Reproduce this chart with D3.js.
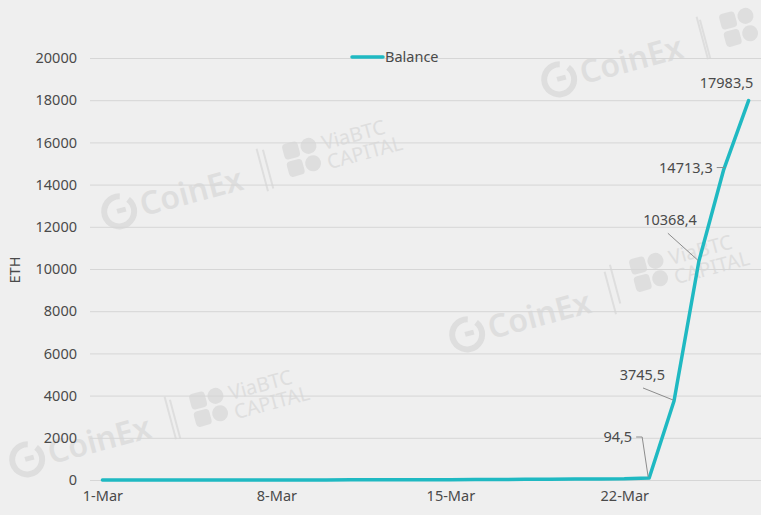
<!DOCTYPE html>
<html>
<head>
<meta charset="utf-8">
<script src="https://d3js.org/d3.v7.min.js"></script>
<style>
  body { margin: 0; background: #efefef; }
  svg { display: block; font-family: "Noto Sans", "Open Sans", sans-serif; }
</style>
</head>
<body>
<div id="chart"></div>
<script>
// data
var dates = ["1-Mar","2-Mar","3-Mar","4-Mar","5-Mar","6-Mar","7-Mar","8-Mar","9-Mar","10-Mar",
  "11-Mar","12-Mar","13-Mar","14-Mar","15-Mar","16-Mar","17-Mar","18-Mar","19-Mar","20-Mar",
  "21-Mar","22-Mar","23-Mar","24-Mar","25-Mar","26-Mar","27-Mar"];
var balance = [0, 0, 0, 0, 0, 0, 0, 0, 2, 4, 6, 8, 10, 12, 15, 20, 25, 30, 38, 45, 52, 60,
  94.5, 3745.5, 10368.4, 14713.3, 17983.5];
var xTickLabels = ["1-Mar", "8-Mar", "15-Mar", "22-Mar"];
var yTicks = [0, 2000, 4000, 6000, 8000, 10000, 12000, 14000, 16000, 18000, 20000];
var seriesName = "Balance";
var yTitle = "ETH";
// labelled points: index, label offset from the point, leader type
var labelled = [
  { i: 22, dx: -17, dy: -41, anchor: "end", leader: "elbow" },
  { i: 23, dx: -9, dy: -26, anchor: "end", leader: "slant" },
  { i: 24, dx: -2, dy: -41, anchor: "end", leader: "slant" },
  { i: 25, dx: -11, dy: -2, anchor: "end", leader: "short" },
  { i: 26, dx: -22, dy: -18, anchor: "middle", leader: "none" }
];

var width = 761, height = 515;
var color = "#1fb9c2";
var textColor = "#4a4a4a";
var fontSize = "14.5px";

var svg = d3.select("#chart").append("svg")
  .attr("width", width).attr("height", height);

svg.append("rect").attr("width", width).attr("height", height).attr("fill", "#efefef");

// watermarks
var wm = svg.append("g").attr("fill", "#dedede").attr("stroke", "none");
function coinex(x, y) {
  var g = wm.append("g").attr("transform", "translate(" + x + "," + y + ") rotate(-15)");
  g.append("path")
    .attr("d", d3.arc()({ innerRadius: 12, outerRadius: 18, startAngle: 0.9, endAngle: 2 * Math.PI + 0.3 }))
    .attr("transform", "translate(0,-11)");
  g.append("rect").attr("x", -2).attr("y", -14).attr("width", 9).attr("height", 5);
  g.append("text").attr("x", 22).attr("y", 0).style("font-size", "32px").style("font-weight", "600")
    .text("CoinEx");
  g.append("rect").attr("x", 148).attr("y", -36).attr("width", 2).attr("height", 44);
}
function viabtc(x, y, withText) {
  var g = wm.append("g").attr("transform", "translate(" + x + "," + y + ") rotate(-15)");
  g.append("rect").attr("x", 0).attr("y", -26).attr("width", 16).attr("height", 16).attr("rx", 4);
  g.append("rect").attr("x", 18).attr("y", -26).attr("width", 16).attr("height", 16).attr("rx", 8);
  g.append("rect").attr("x", 0).attr("y", -8).attr("width", 16).attr("height", 16).attr("rx", 4);
  g.append("rect").attr("x", 18).attr("y", -8).attr("width", 16).attr("height", 16).attr("rx", 8);
  if (withText) {
    g.append("text").attr("x", 40).attr("y", -10).style("font-size", "20px").text("ViaBTC");
    g.append("text").attr("x", 40).attr("y", 10).style("font-size", "20px").text("CAPITAL");
  }
  g.append("rect").attr("x", -20).attr("y", -26).attr("width", 2).attr("height", 40);
}
coinex(122, 222); coinex(470, 345); coinex(30, 470); coinex(562, 90);
viabtc(288, 170, true); viabtc(635, 285, true); viabtc(195, 420, true); viabtc(725, 40, false);

var x = d3.scalePoint().domain(dates).range([90, 761]).padding(0.5);
var y = d3.scaleLinear().domain([0, 20000]).range([480, 58]);

// gridlines
svg.append("g").selectAll("line").data(yTicks).enter().append("line")
  .attr("x1", 90).attr("x2", 761)
  .attr("y1", function(d) { return y(d) + 0.5; }).attr("y2", function(d) { return y(d) + 0.5; })
  .attr("stroke", "#d6d6d6").attr("stroke-width", 1);

// y axis
var yAxis = svg.append("g").attr("transform", "translate(77,0)")
  .call(d3.axisLeft(y).tickValues(yTicks).tickSize(0).tickPadding(0).tickFormat(d3.format("d")));
yAxis.select(".domain").remove();
yAxis.selectAll("text").attr("fill", textColor).style("font-size", fontSize)
  .style("font-family", "'Noto Sans', sans-serif");

// x axis
var xAxis = svg.append("g").attr("transform", "translate(0,480)")
  .call(d3.axisBottom(x).tickValues(xTickLabels).tickSize(0).tickPadding(11));
xAxis.select(".domain").remove();
xAxis.selectAll("text").attr("fill", textColor).style("font-size", fontSize)
  .style("font-family", "'Noto Sans', sans-serif");

// y title
svg.append("text").attr("transform", "translate(20,270) rotate(-90)")
  .attr("text-anchor", "middle").attr("fill", textColor).style("font-size", fontSize).text(yTitle);

// line
var line = d3.line()
  .x(function(d, i) { return x(dates[i]); })
  .y(function(d) { return y(d); });
svg.append("path").datum(balance).attr("d", line)
  .attr("fill", "none").attr("stroke", color).attr("stroke-width", 3.5)
  .attr("stroke-linejoin", "round").attr("stroke-linecap", "round");

// data labels
var fmt = function(v) { return d3.format(".1f")(v).replace(".", ","); };
var leaders = svg.append("g").attr("fill", "none").attr("stroke", "#8c8c8c").attr("stroke-width", 1);
labelled.forEach(function(l) {
  var px = x(dates[l.i]), py = y(balance[l.i]);
  var tx = px + l.dx, ty = py + l.dy;
  if (l.leader === "elbow") {
    leaders.append("path").attr("d", "M" + (tx + 4) + "," + ty + "H" + (tx + 10) + "L" + (px - 1) + "," + (py - 1));
  } else if (l.leader === "slant") {
    leaders.append("line").attr("x1", tx - 22 - (l.i === 24 ? 7 : 0)).attr("y1", ty + 13)
      .attr("x2", px - 1).attr("y2", py - 1);
  } else if (l.leader === "short") {
    leaders.append("line").attr("x1", tx + 4).attr("y1", ty).attr("x2", px + 1).attr("y2", ty);
  }
  svg.append("text").attr("x", tx).attr("y", ty).attr("dy", "0.35em")
    .attr("text-anchor", l.anchor).attr("fill", textColor).style("font-size", fontSize)
    .text(fmt(balance[l.i]));
});

// legend
var lg = svg.append("g").attr("transform", "translate(352,57)");
lg.append("line").attr("x1", 0).attr("x2", 31).attr("y1", 0).attr("y2", 0)
  .attr("stroke", color).attr("stroke-width", 3.5).attr("stroke-linecap", "round");
lg.append("text").attr("x", 33).attr("y", 0).attr("dy", "0.35em").attr("fill", textColor)
  .style("font-size", fontSize).text(seriesName);
</script>
</body>
</html>
